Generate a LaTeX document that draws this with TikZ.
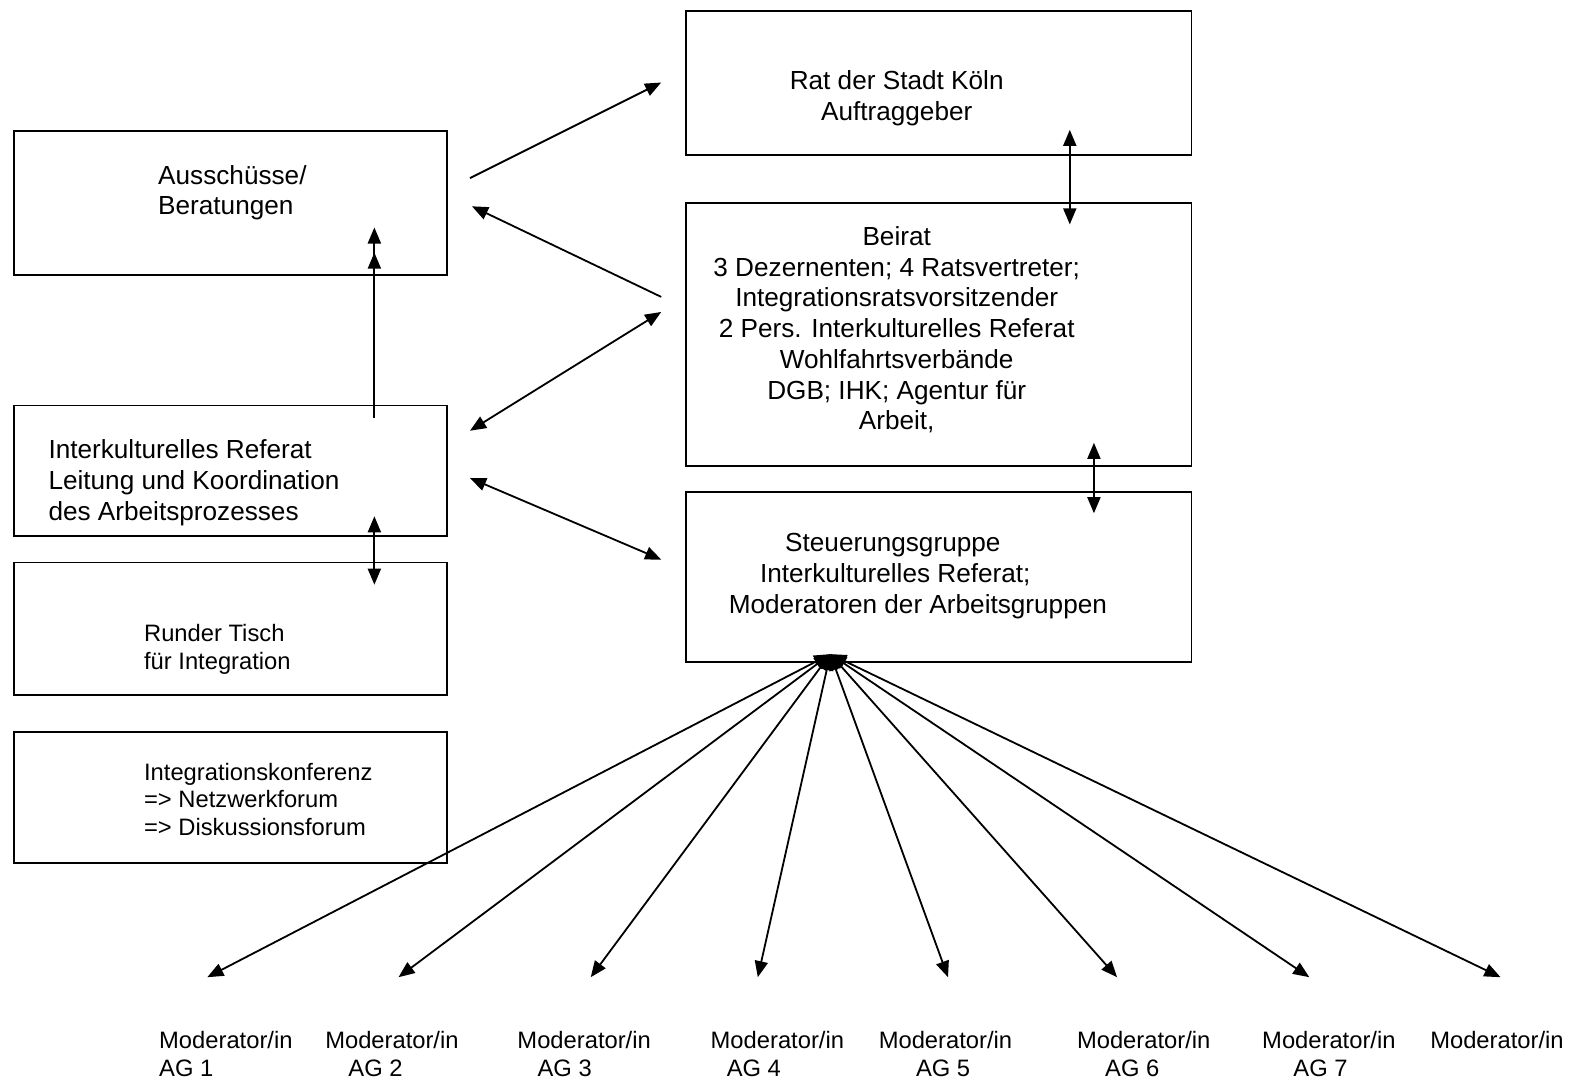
\documentclass[tikz,border=0pt]{standalone}
\usepackage{fontspec}
\setmainfont{Liberation Sans}
\usetikzlibrary{arrows.meta, positioning}

\begin{document}
\begin{tikzpicture}[
  x=1pt, y=-1pt,
  box/.style={rectangle, draw, line width=1.9pt, anchor=north west, inner sep=0pt},
  lbox/.style={box, minimum width=430pt},
  rbox/.style={box, minimum width=502pt},
  txt/.style={inner sep=0pt, align=left, font=\fontsize{26}{30.5}\selectfont},
  small/.style={inner sep=0pt, align=left, font=\fontsize{23.6}{27.5}\selectfont},
  arr/.style={-{Triangle[length=16pt, width=13pt]}, line width=1.8pt},
  darr/.style={{Triangle[length=16pt, width=13pt]}-{Triangle[length=16pt, width=13pt]},
               line width=1.8pt}
]
  \useasboundingbox (0,0) rectangle (1568,1073);

  % boxes
  \node[rbox, minimum height=143pt] (rat) at (681,10) {};
  \node[rbox, minimum height=261pt] (bei) at (681,201) {};
  \node[rbox, minimum height=169pt] (stg) at (681,488) {};
  \node[lbox, minimum height=143pt] (aus) at (13,129) {};
  \node[lbox, minimum height=130pt] (ikr) at (13,402) {};
  \node[lbox, minimum height=132pt] (rt) at (13,558) {};
  \node[lbox, minimum height=131pt] (ik) at (13,726) {};

  % texts
  \node[txt, align=center, anchor=north] (rat-t) at (891,70) {Rat der Stadt Köln\\Auftraggeber};
  \node[txt, align=center, anchor=north] (bei-t) at (891,225)
    {Beirat\\3 Dezernenten; 4 Ratsvertreter;\\Integrationsratsvorsitzender\\
     2 Pers. Interkulturelles Referat\\Wohlfahrtsverbände\\DGB; IHK; Agentur für\\Arbeit,};
  \node[txt, anchor=north west] (stg-t) at (724,530)
    {\hspace*{56pt}Steuerungsgruppe\\\hspace*{31pt}Interkulturelles Referat;\\
     Moderatoren der Arbeitsgruppen};
  \node[txt, anchor=north west] (aus-t) at (157,164) {Ausschüsse/\\Beratungen};
  \node[txt, anchor=north west] (ikr-t) at (48,437)
    {Interkulturelles Referat\\Leitung und Koordination\\des Arbeitsprozesses};
  \node[small, anchor=north west] (rt-t) at (143,620) {Runder Tisch\\für Integration};
  \node[small, anchor=north west] (ik-t) at (143,758)
    {Integrationskonferenz\\=> Netzwerkforum\\=> Diskussionsforum};

  % connectors between the boxes
  \coordinate (a1) at (467,177);  \coordinate (a2) at (657,82);
  \coordinate (b1) at (657,295);  \coordinate (b2) at (469,205);
  \coordinate (c1) at (467,428);  \coordinate (c2) at (657,310);
  \coordinate (d1) at (467,475);  \coordinate (d2) at (657,556);
  \coordinate (e1) at (1063,129); \coordinate (e2) at (1063,223);
  \coordinate (f1) at (1087,440); \coordinate (f2) at (1087,510);
  \coordinate (v0) at (372,415);  \coordinate (v1) at (372,226);
  \coordinate (v2) at (372,251);
  \coordinate (g1) at (372,513);  \coordinate (g2) at (372,581);

  \draw[arr] (a1) -- (a2);
  \draw[arr] (b1) -- (b2);
  \draw[darr] (c1) -- (c2);
  \draw[darr] (d1) -- (d2);
  \draw[darr] (e1) -- (e2);
  \draw[darr] (f1) -- (f2);
  \draw[arr] (v0) -- (v1);
  \draw[arr] (v0) -- (v2);
  \draw[darr] (g1) -- (g2);

  % working groups
  \coordinate (fan) at (825,650);
  \foreach \i/\x in {1/206, 2/396, 3/587, 4/753, 5/942, 6/1110, 7/1301, 8/1491}
    \coordinate (ag\i) at (\x,971);
  \foreach \i in {1,...,8}
    \draw[darr] (fan) -- (ag\i);

  \foreach \i/\x/\ind in {1/158/0, 2/323/23, 3/514/20, 4/706/16, 5/873/37, 6/1070/28, 7/1254/31}
    \node[small, anchor=north west] (mod\i) at (\x,1025) {Moderator/in\\\hspace*{\ind pt}AG \i};
  \node[small, anchor=north west] (mod8) at (1421,1025) {Moderator/in};
\end{tikzpicture}
\end{document}
